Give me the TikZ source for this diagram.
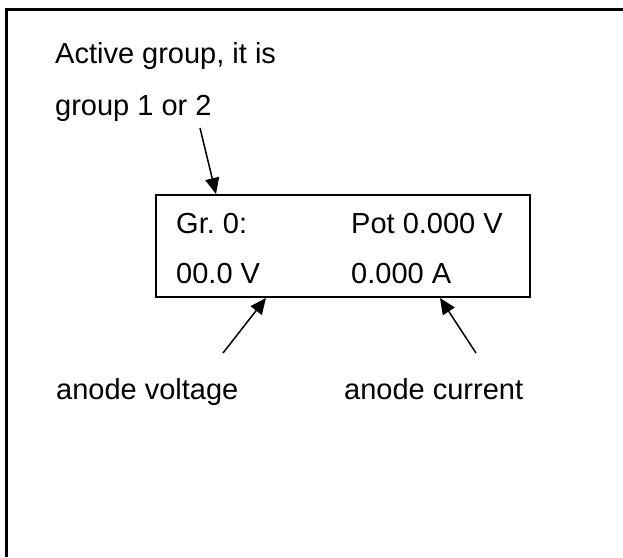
\documentclass[tikz,border=0pt]{standalone}
\usepackage{fontspec}
\setmainfont{Liberation Sans}
\usetikzlibrary{calc, arrows.meta}

\begin{document}
\begin{tikzpicture}[x=1pt, y=-1pt,
    label/.style={anchor=base west, inner sep=0pt, font=\fontsize{29}{34}\selectfont},
    pointer/.style={-{Triangle[length=16pt, width=14pt]}, line width=1.5pt},
    display/.style={draw, line width=2pt, minimum width=374pt, minimum height=102pt, inner sep=0pt}]
    % Define colours
    \definecolor{lineColour}{HTML}{000000}

    % Fix the page size
    \useasboundingbox (0,0) rectangle (623,557);

    % Draw the outer frame (cut off right and bottom)
    \draw[lineColour, line width=3pt] (623,9) -- (6,9) -- (6,557);

    % Describe the active group
    \node[label] (activeA) at (55,63) {Active group, it is};
    \node[label] (activeB) at (55,115) {group 1 or 2};

    % Draw the display
    \node[display] (lcd) at (343,246) {};
    \node[label] (grText)  at (176,233) {Gr.\ 0:};
    \node[label] (potText) at (351,233) {Pot 0.000 V};
    \node[label] (uText)   at (176,283) {00.0 V};
    \node[label] (iText)   at (351,283) {0.000 A};

    % Label the anode values below the display
    \node[label] (voltage) at (56,399) {anode voltage};
    \node[label] (current) at (344,399) {anode current};

    % Define the tails of the arrows
    \coordinate (activeTail)  at (200,128);
    \coordinate (voltageTail) at (223,353);
    \coordinate (currentTail) at (476,353);

    % Draw the arrows onto the display
    \draw[pointer] (activeTail) -- ($(lcd.north west)+(61,0)$);
    \draw[pointer] (voltageTail) -- ($(lcd.south west)+(111,0)$);
    \draw[pointer] (currentTail) -- ($(lcd.south west)+(285,0)$);

\end{tikzpicture}
\end{document}
